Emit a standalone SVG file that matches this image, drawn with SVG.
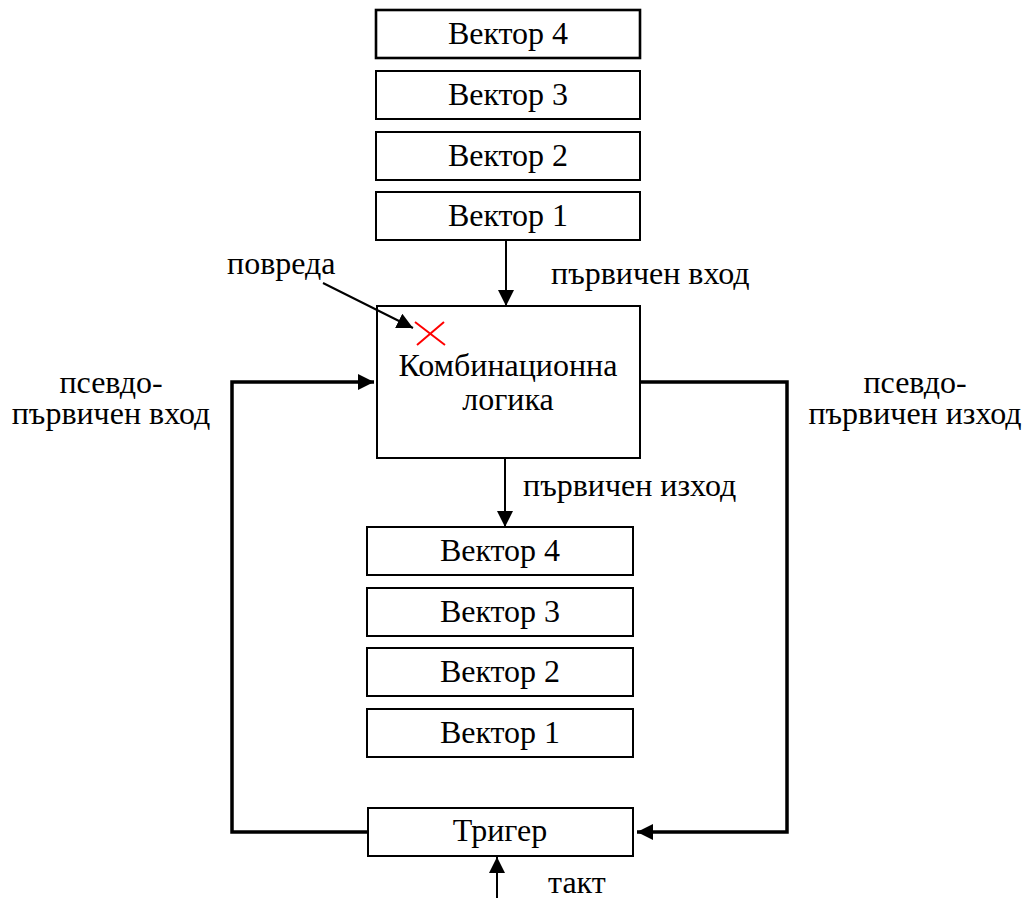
<svg xmlns="http://www.w3.org/2000/svg" width="1027" height="903" viewBox="0 0 1027 903">
<defs>
<style>
.box{fill:#fff;stroke:#000;stroke-width:2}
.t{font-family:"Liberation Serif","Times New Roman",serif;font-size:32px;fill:#000}
.m{text-anchor:middle}
.thin{fill:none;stroke:#000;stroke-width:2}
.thick{fill:none;stroke:#000;stroke-width:3.5}
</style>
<marker id="ah" viewBox="0 0 16 16" refX="16" refY="8" markerWidth="16" markerHeight="16" markerUnits="userSpaceOnUse" orient="auto"><path d="M0,0 L16,8 L0,16 z" fill="#000"/></marker>
</defs>
<rect width="1027" height="903" fill="#fff"/>
<g id="in4"><rect class="box" x="376" y="10" width="264" height="48" style="stroke-width:2.6"/><text class="t m" x="508" y="44">Вектор 4</text></g>
<g id="in3"><rect class="box" x="376" y="71" width="264" height="48"/><text class="t m" x="508" y="105">Вектор 3</text></g>
<g id="in2"><rect class="box" x="376" y="132" width="264" height="48"/><text class="t m" x="508" y="166">Вектор 2</text></g>
<g id="in1"><rect class="box" x="376" y="192" width="264" height="48"/><text class="t m" x="508" y="226">Вектор 1</text></g>
<g id="comb"><rect class="box" x="377" y="306" width="263" height="152"/><text class="t m" x="508" y="376">Комбинационна</text><text class="t m" x="508" y="410">логика</text></g>
<g id="fault"><path d="M415,322 L445,345 M444,322 L417,345" stroke="#f00" stroke-width="2" fill="none"/></g>
<g id="out4"><rect class="box" x="367" y="527" width="266" height="48"/><text class="t m" x="500" y="561">Вектор 4</text></g>
<g id="out3"><rect class="box" x="367" y="588" width="266" height="48"/><text class="t m" x="500" y="622">Вектор 3</text></g>
<g id="out2"><rect class="box" x="367" y="648" width="266" height="48"/><text class="t m" x="500" y="682">Вектор 2</text></g>
<g id="out1"><rect class="box" x="367" y="709" width="266" height="48"/><text class="t m" x="500" y="743">Вектор 1</text></g>
<g id="trig"><rect class="box" x="368" y="808" width="265" height="48"/><text class="t m" x="500" y="841">Тригер</text></g>
<g id="connectors">
<line class="thin" x1="506" y1="240" x2="506" y2="306" marker-end="url(#ah)"/>
<line class="thin" x1="505" y1="458" x2="505" y2="527" marker-end="url(#ah)"/>
<line class="thin" x1="497" y1="898" x2="497" y2="857" marker-end="url(#ah)"/>
<line class="thin" x1="323" y1="283" x2="413" y2="328" marker-end="url(#ah)"/>
<polyline class="thick" points="368,832 232,832 232,382 374,382" marker-end="url(#ah)"/>
<polyline class="thick" points="640,382 787,382 787,832 637,832" marker-end="url(#ah)"/>
</g>
<g id="labels">
<text class="t" x="227" y="274">повреда</text>
<text class="t" x="551" y="284">първичен вход</text>
<text class="t" x="523" y="496">първичен изход</text>
<text class="t m" x="111" y="393">псевдо-</text>
<text class="t m" x="111" y="424">първичен вход</text>
<text class="t m" x="915" y="393">псевдо-</text>
<text class="t m" x="915" y="424">първичен изход</text>
<text class="t" x="548" y="893">такт</text>
</g>
</svg>
